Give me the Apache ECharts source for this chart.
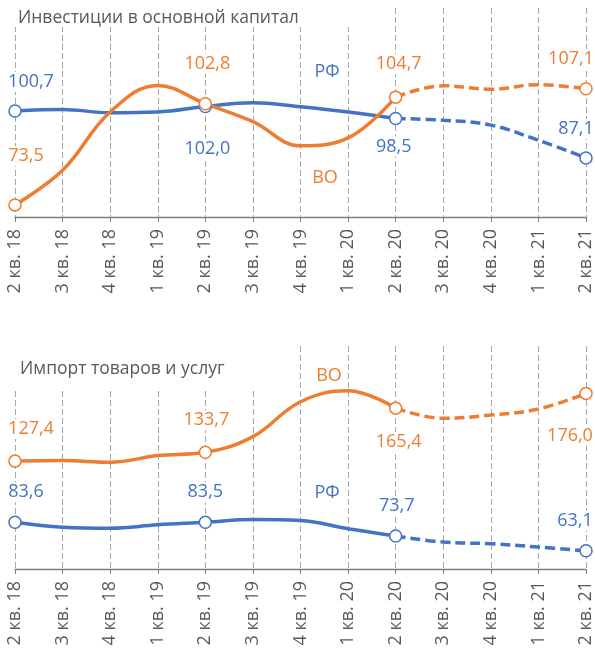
<!DOCTYPE html>
<html><head><meta charset="utf-8">
<script src="https://cdn.jsdelivr.net/npm/echarts@6/dist/echarts.min.js"></script>
<style>html,body{margin:0;padding:0;background:#fff}#c{width:595px;height:653px}</style>
</head><body><div id="c"></div><script>
// ---- data ----
const categories = ['2 кв. 18','3 кв. 18','4 кв. 18','1 кв. 19','2 кв. 19','3 кв. 19','4 кв. 19','1 кв. 20','2 кв. 20','3 кв. 20','4 кв. 20','1 кв. 21','2 кв. 21'];
const invRF = [100.7, 101.1, 100.2, 100.4, 102.0, 103.1, 101.9, 100.4, 98.5, 98.0, 96.6, 92.2, 87.1];
const invVO = [73.5, 83.5, 100.4, 108.1, 102.8, 97.6, 90.6, 92.9, 104.7, 108.0, 107.0, 108.3, 107.1];
const impRF = [83.6, 80.0, 79.3, 81.7, 83.5, 85.5, 84.8, 78.9, 73.7, 69.3, 68.1, 65.7, 63.1];
const impVO = [127.4, 127.8, 126.6, 131.4, 133.7, 145.0, 170.0, 177.9, 165.4, 158.1, 160.5, 164.8, 176.0];
const titles = ['Инвестиции в основной капитал', 'Импорт товаров и услуг'];
const seriesNames = ['РФ', 'ВО'];
const labeledIdx = [0, 4, 8, 12];
const forecastFrom = 8;

// ---- styles ----
const BLUE = '#4472C4', ORANGE = '#ED7D31', GRAY = '#595959';
const FONT = '"Open Sans", sans-serif';
const labelOffsets = {
  invRF: {0: [16, -29], 4: [2, 42], 8: [-2, 28], 12: [-10, -29]},
  invVO: {0: [11, -49], 4: [2, -40], 8: [3, -33], 12: [-15, -30]},
  impRF: {0: [11, -30], 4: [0, -30], 8: [1, -30], 12: [-11, -30]},
  impVO: {0: [16, -32], 4: [1, -32], 8: [3, 34], 12: [-16, 42]}
};
const fmt = v => v.toFixed(1).replace('.', ',');

function makeSeries(values, key, color, gi) {
  const offs = labelOffsets[key];
  const item = (v, i) => {
    if (labeledIdx.indexOf(i) >= 0) {
      return {
        value: v, symbol: 'circle', symbolSize: 12,
        label: {show: true, position: 'inside', offset: offs[i], formatter: fmt(v),
          color: color, fontSize: 18, fontFamily: FONT,
          backgroundColor: '#fff', padding: [1, 3]}
      };
    }
    return {value: v, symbol: 'none'};
  };
  const solid = values.map((v, i) => i <= forecastFrom ? item(v, i) : '-');
  const dashed = values.map((v, i) => i >= forecastFrom ? (i === forecastFrom ? {value: v, symbol: 'none'} : item(v, i)) : '-');
  const common = {
    type: 'line', xAxisIndex: gi, yAxisIndex: gi, smooth: 0.4, silent: true,
    itemStyle: {color: '#fff', borderColor: color, borderWidth: 1.5},
    label: {show: false}, emphasis: {disabled: true}
  };
  return [
    Object.assign({}, common, {data: dashed, z: 2, lineStyle: {color: color, width: 3.5, type: [10, 5]}}),
    Object.assign({}, common, {data: solid, z: 3, lineStyle: {color: color, width: 3.5, type: 'solid'}})
  ];
}

function xAxis(gi) {
  return {
    type: 'category', gridIndex: gi, data: categories, boundaryGap: false,
    axisLine: {lineStyle: {color: '#7f7f7f', width: 1.3}},
    axisTick: {show: true, length: 5, lineStyle: {color: '#7f7f7f'}},
    axisLabel: {rotate: 90, color: GRAY, fontSize: 18, fontFamily: FONT, margin: 12, interval: 0},
    splitLine: {show: true, lineStyle: {color: '#a6a6a6', width: 1, type: [6, 3]}}
  };
}

const chart = echarts.init(document.getElementById('c'), null, {renderer: 'canvas'});
chart.setOption({
  animation: false,
  backgroundColor: '#fff',
  grid: [
    {left: 15, right: 7, top: 8, height: 209},
    {left: 15, right: 7, top: 346, height: 223}
  ],
  xAxis: [xAxis(0), xAxis(1)],
  yAxis: [
    {type: 'value', gridIndex: 0, min: 70, max: 130.5, show: false},
    {type: 'value', gridIndex: 1, min: 50, max: 210, show: false}
  ],
  series: [].concat(
    makeSeries(invRF, 'invRF', BLUE, 0),
    makeSeries(invVO, 'invVO', ORANGE, 0),
    makeSeries(impRF, 'impRF', BLUE, 1),
    makeSeries(impVO, 'impVO', ORANGE, 1)
  ),
  graphic: [
    {type: 'rect', z: 100, shape: {x: 0, y: 0, width: 365, height: 27}, style: {fill: '#fff'}},
    {type: 'rect', z: 100, shape: {x: 0, y: 340, width: 280, height: 48}, style: {fill: '#fff'}},
    {type: 'text', z: 101, style: {text: titles[0], x: 18, y: 18, fill: GRAY, font: '17.5px ' + FONT, verticalAlign: 'middle'}},
    {type: 'text', z: 101, style: {text: titles[1], x: 20, y: 369, fill: GRAY, font: '17.5px ' + FONT, verticalAlign: 'middle'}},
    {type: 'text', z: 101, style: {text: seriesNames[0], x: 327, y: 72, fill: BLUE, font: '18px ' + FONT, align: 'center', verticalAlign: 'middle'}},
    {type: 'text', z: 101, style: {text: seriesNames[1], x: 325, y: 178, fill: ORANGE, font: '18px ' + FONT, align: 'center', verticalAlign: 'middle'}},
    {type: 'text', z: 101, style: {text: seriesNames[1], x: 329, y: 376, fill: ORANGE, font: '18px ' + FONT, align: 'center', verticalAlign: 'middle'}},
    {type: 'text', z: 101, style: {text: seriesNames[0], x: 327, y: 493, fill: BLUE, font: '18px ' + FONT, align: 'center', verticalAlign: 'middle'}}
  ]
});
</script></body></html>
